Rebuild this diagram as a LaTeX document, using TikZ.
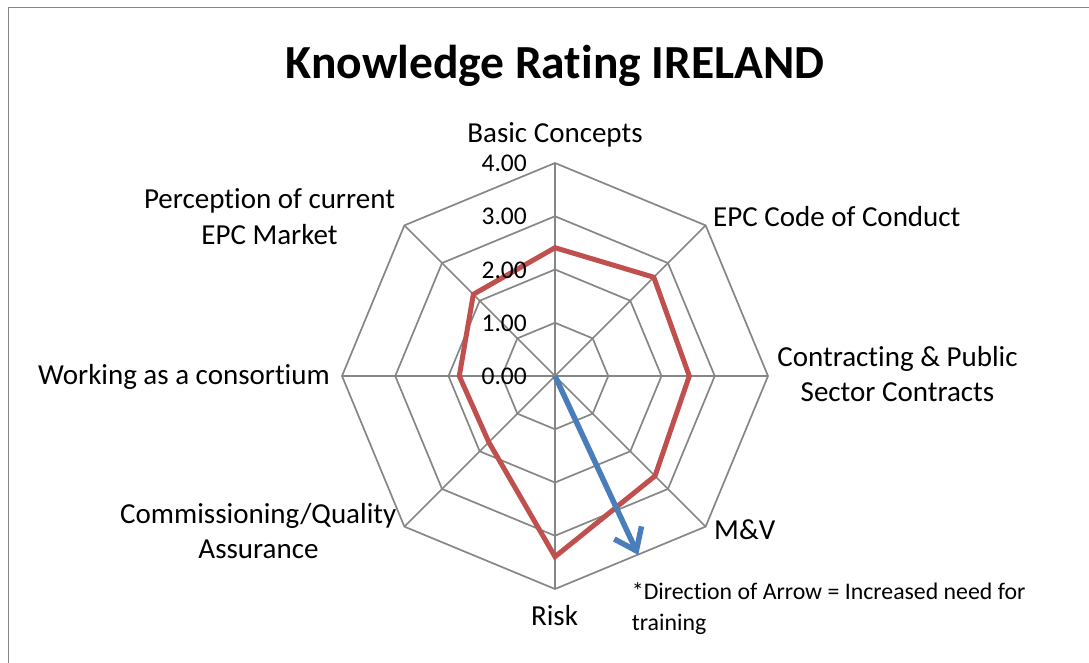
\documentclass[tikz,border=0pt]{standalone}
\usepackage{fontspec}
\setmainfont{Carlito}[Ligatures=NoCommon]
\usetikzlibrary{arrows.meta}
\definecolor{gridgray}{HTML}{868686}
\definecolor{datared}{HTML}{C0504D}
\definecolor{arrowblue}{HTML}{4A7EBB}
\begin{document}
\begin{tikzpicture}[x=1pt,y=-1pt,
  gridline/.style={draw=gridgray,line width=1.7pt},
  series/.style={draw=datared,line width=5pt,line join=miter},
  trend/.style={draw=arrowblue,line width=5.5pt,-{Straight Barb[length=20pt,width=30pt]}},
  lbl/.style={font=\fontsize{29}{34}\selectfont,inner sep=0pt,anchor=base},
  tick/.style={font=\fontsize{25.5}{30}\selectfont,inner sep=0pt,anchor=base east},
  note/.style={font=\fontsize{23.8}{30}\selectfont,inner sep=0pt,anchor=base west},
  ttl/.style={font=\fontsize{47.5}{56}\selectfont\bfseries,inner sep=0pt,anchor=base}]
\useasboundingbox (0,0) rectangle (1089,662);
\draw[draw=gridgray,line width=1.7pt] (8.5,7.5) rectangle (1100,700);
\node[ttl] (title) at (555,78.2) {Knowledge Rating IRELAND};
\begin{scope}[shift={(555,376)}]
  \coordinate (O) at (0,0);
  \foreach \r in {53.25,106.5,159.75,213}
    \draw[gridline] (90:\r pt) -- (45:\r pt) -- (0:\r pt) -- (-45:\r pt) -- (-90:\r pt) -- (-135:\r pt) -- (180:\r pt) -- (135:\r pt) -- cycle;
  \foreach \a in {0,45,...,315}
    \draw[gridline] (O) -- (\a:213pt);
  \draw[series] (90:128.3pt) -- (45:139.7pt) -- (0:134.3pt) -- (-45:141.4pt) -- (-90:180.7pt) -- (-135:93.6pt) -- (180:95.7pt) -- (135:115.5pt) -- cycle;
  \coordinate (T) at (-65.05:197.4pt);
  \draw[trend] (O) -- (T);
\end{scope}
\node[tick] (t4) at (527,171.7) {4.00};
\node[tick] (t3) at (527,224.9) {3.00};
\node[tick] (t2) at (527,278.2) {2.00};
\node[tick] (t1) at (527,331.4) {1.00};
\node[tick] (t0) at (527,384.7) {0.00};
\node[lbl] (basic) at (555,142.3) {Basic Concepts};
\node[lbl,anchor=base west] (code) at (713,226.7) {EPC Code of Conduct};
\node[lbl] (contr1) at (897.5,366.7) {Contracting \& Public};
\node[lbl] (contr2) at (897.5,401.7) {Sector Contracts};
\node[lbl,anchor=base west] (mv) at (714,539.7) {M\&V};
\node[lbl] (risk) at (554.5,625.7) {Risk};
\node[lbl] (comm1) at (258.3,523.3) {Commissioning/Quality};
\node[lbl] (comm2) at (258.5,558.3) {Assurance};
\node[lbl,anchor=base east] (work) at (330,384.7) {Working as a consortium};
\node[lbl] (perc1) at (269.5,208.3) {Perception of current};
\node[lbl] (perc2) at (269.5,244) {EPC Market};
\node[note] (note1) at (631.7,599.3) {*Direction of Arrow = Increased need for};
\node[note] (note2) at (631.7,630) {training};
\end{tikzpicture}
\end{document}
